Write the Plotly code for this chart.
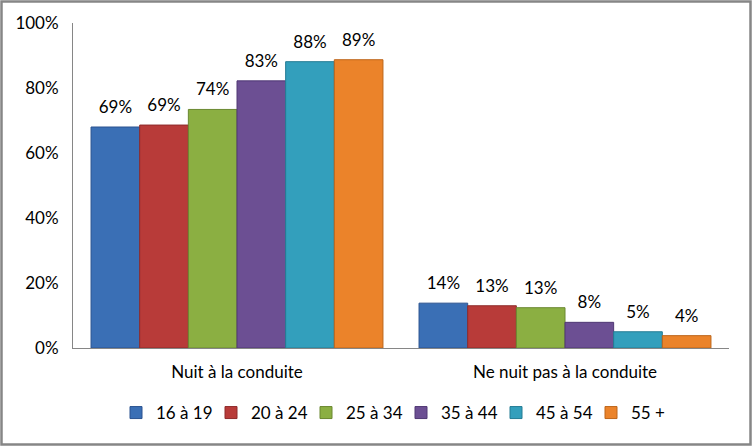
import plotly.graph_objects as go

categories = ["Nuit à la conduite", "Ne nuit pas à la conduite"]
series_names = ["16 à 19", "20 à 24", "25 à 34", "35 à 44", "45 à 54", "55 +"]
values = [
    [68.0, 13.8],
    [68.6, 13.0],
    [73.4, 12.4],
    [82.2, 7.9],
    [88.1, 5.0],
    [88.7, 3.8],
]
labels = [
    ["69%", "14%"],
    ["69%", "13%"],
    ["74%", "13%"],
    ["83%", "8%"],
    ["88%", "5%"],
    ["89%", "4%"],
]
colors = ["#3A6FB5", "#B83B39", "#8BAF42", "#6C4F93", "#339FBC", "#EB832A"]
edge = ["#2A5390", "#8E2B2A", "#6A8830", "#503874", "#247C94", "#BD6519"]
tick_vals = [0, 20, 40, 60, 80, 100]
tick_text = ["0%", "20%", "40%", "60%", "80%", "100%"]

FONT = "Lato, Calibri, Arial, sans-serif"
FS = 17

fig = go.Figure()
for name, v, c, e in zip(series_names, values, colors, edge):
    fig.add_trace(go.Bar(
        x=categories, y=v, name=name,
        marker=dict(color=c, line=dict(color=e, width=1)),
        hoverinfo="skip",
    ))
for name, v, t in zip(series_names, values, labels):
    fig.add_trace(go.Scatter(
        x=categories, y=v, text=t, mode="markers+text",
        textposition="top center", cliponaxis=False,
        marker=dict(size=14, opacity=0), showlegend=False,
        textfont=dict(size=FS, color="#000000", family=FONT),
        hoverinfo="skip",
    ))

W, H = 752, 446
L, R, T, B = 73, 23, 23, 98
pw, ph = W - L - R, H - T - B

fig.update_layout(
    width=W, height=H,
    margin=dict(l=L, r=R, t=T, b=B, autoexpand=False),
    barmode="group", bargap=0.11, bargroupgap=0,
    scattermode="group", scattergap=0.11,
    plot_bgcolor="white", paper_bgcolor="white",
    font=dict(family=FONT, size=FS, color="#000000"),
    showlegend=True,
    legend=dict(orientation="h", x=0.5, xanchor="center", y=-0.2, yanchor="middle",
                font=dict(size=FS, family=FONT), itemwidth=30,
                entrywidth=50, traceorder="normal"),
    xaxis=dict(showline=True, linecolor="#868686", linewidth=1,
               ticks="", tickfont=dict(size=FS, family=FONT),
               ticklabelstandoff=9),
    yaxis=dict(range=[0, 100], tickvals=tick_vals, ticktext=tick_text,
               showgrid=False, showline=True, linecolor="#868686", linewidth=1,
               ticks="", zeroline=False, tickfont=dict(size=FS, family=FONT),
               ticklabelstandoff=10),
    shapes=[dict(type="rect", xref="paper", yref="paper",
                 x0=(1.5 - L) / pw, x1=(W - 1.5 - L) / pw,
                 y0=-(H - 1.5 - T - ph) / ph, y1=(T - 1.5) / ph + 1,
                 line=dict(color="#868686", width=2.5), fillcolor="rgba(0,0,0,0)",
                 layer="below")],
)

fig.write_html("out.html", config={"displayModeBar": False},
               post_script="document.body.style.margin='0px';")
